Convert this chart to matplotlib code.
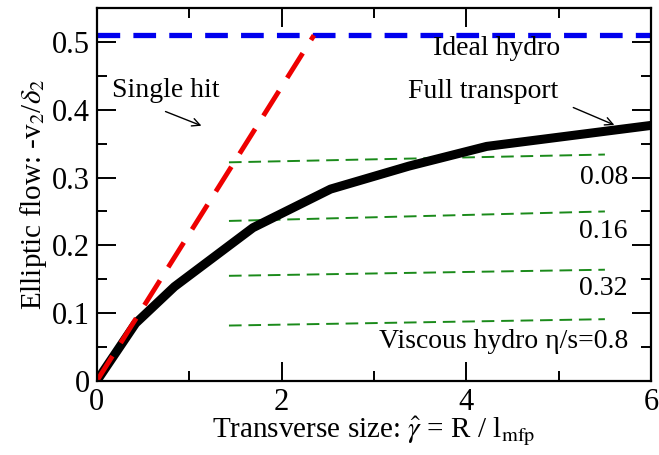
import numpy as np
import matplotlib.pyplot as plt
from matplotlib.ticker import MultipleLocator

plt.rcParams['font.family'] = ['Liberation Serif', 'DejaVu Serif']
plt.rcParams['mathtext.fontset'] = 'stix'

# full transport (black)
gamma_full = [0, 0.42, 0.84, 1.69, 2.53, 3.38, 4.22, 6.0]
v2_full = [0, 0.085, 0.139, 0.226, 0.283, 0.317, 0.346, 0.377]

# single hit (red) and ideal hydro (blue)
gamma_single = [0, 2.35]
v2_single = [0, 0.51]
gamma_ideal = [0, 6]
v2_ideal = [0.51, 0.51]

# viscous hydro curves, eta/s labels
visc_labels = ['0.08', '0.16', '0.32', 'Viscous hydro η/s=0.8']
visc_x = [1.43, 5.5]
visc_y = [[0.3225, 0.334], [0.236, 0.250], [0.155, 0.164], [0.0816, 0.091]]
visc_label_y = [0.300, 0.220, 0.137, 0.058]

fig = plt.figure(figsize=(6.59, 4.55), dpi=100)
ax = fig.add_axes([0.147, 0.163, 0.841, 0.819])

for ys in visc_y:
    ax.plot(visc_x, ys, color='#1a8a1a', lw=1.4, dashes=(6.5, 3.5))
for lab, ly in zip(visc_labels, visc_label_y):
    ax.text(5.75, ly, lab, ha='right', va='center', fontsize=20)

ax.plot(gamma_full, v2_full, color='black', lw=6.5, solid_capstyle='butt')
ax.plot(gamma_ideal, v2_ideal, color='#0000ee', lw=3.8, dashes=(4.3, 2.5))
ax.plot(gamma_single, v2_single, color='#ee0000', lw=3.5, dashes=(6.0, 3.2))

ax.text(4.33, 0.49, 'Ideal hydro', ha='center', va='center', fontsize=20)
ax.text(4.18, 0.427, 'Full transport', ha='center', va='center', fontsize=20)
ax.annotate('', xy=(5.63, 0.376), xytext=(5.13, 0.405),
            arrowprops=dict(arrowstyle='->', lw=1, color='black',
                            mutation_scale=14))
ax.text(0.75, 0.428, 'Single hit', ha='center', va='center', fontsize=20)
ax.annotate('', xy=(1.16, 0.375), xytext=(0.715, 0.399),
            arrowprops=dict(arrowstyle='->', lw=1, color='black',
                            mutation_scale=14))

ax.set_xlim(0, 6)
ax.set_ylim(0, 0.55)
ax.xaxis.set_major_locator(MultipleLocator(2))
ax.xaxis.set_minor_locator(MultipleLocator(1))
ax.yaxis.set_major_locator(MultipleLocator(0.1))
ax.yaxis.set_minor_locator(MultipleLocator(0.05))
ax.set_yticks([0, 0.1, 0.2, 0.3, 0.4, 0.5])
ax.set_yticklabels(['0', '0.1', '0.2', '0.3', '0.4', '0.5'])
ax.tick_params(which='both', direction='in', top=True, right=True, width=1.4,
               labelsize=22, pad=5)
ax.tick_params(which='major', length=14)
ax.tick_params(which='minor', length=7)
for s in ax.spines.values():
    s.set_linewidth(1.6)

ax.set_xlabel(r'Transverse size: $\hat{\gamma}$ = R / l$_{\rm mfp}$', fontsize=21, labelpad=-2)
ax.set_ylabel(r'Elliptic flow: -v$_2$/$\delta_2$', fontsize=21, labelpad=2)

fig.savefig('out.png', dpi=100)
